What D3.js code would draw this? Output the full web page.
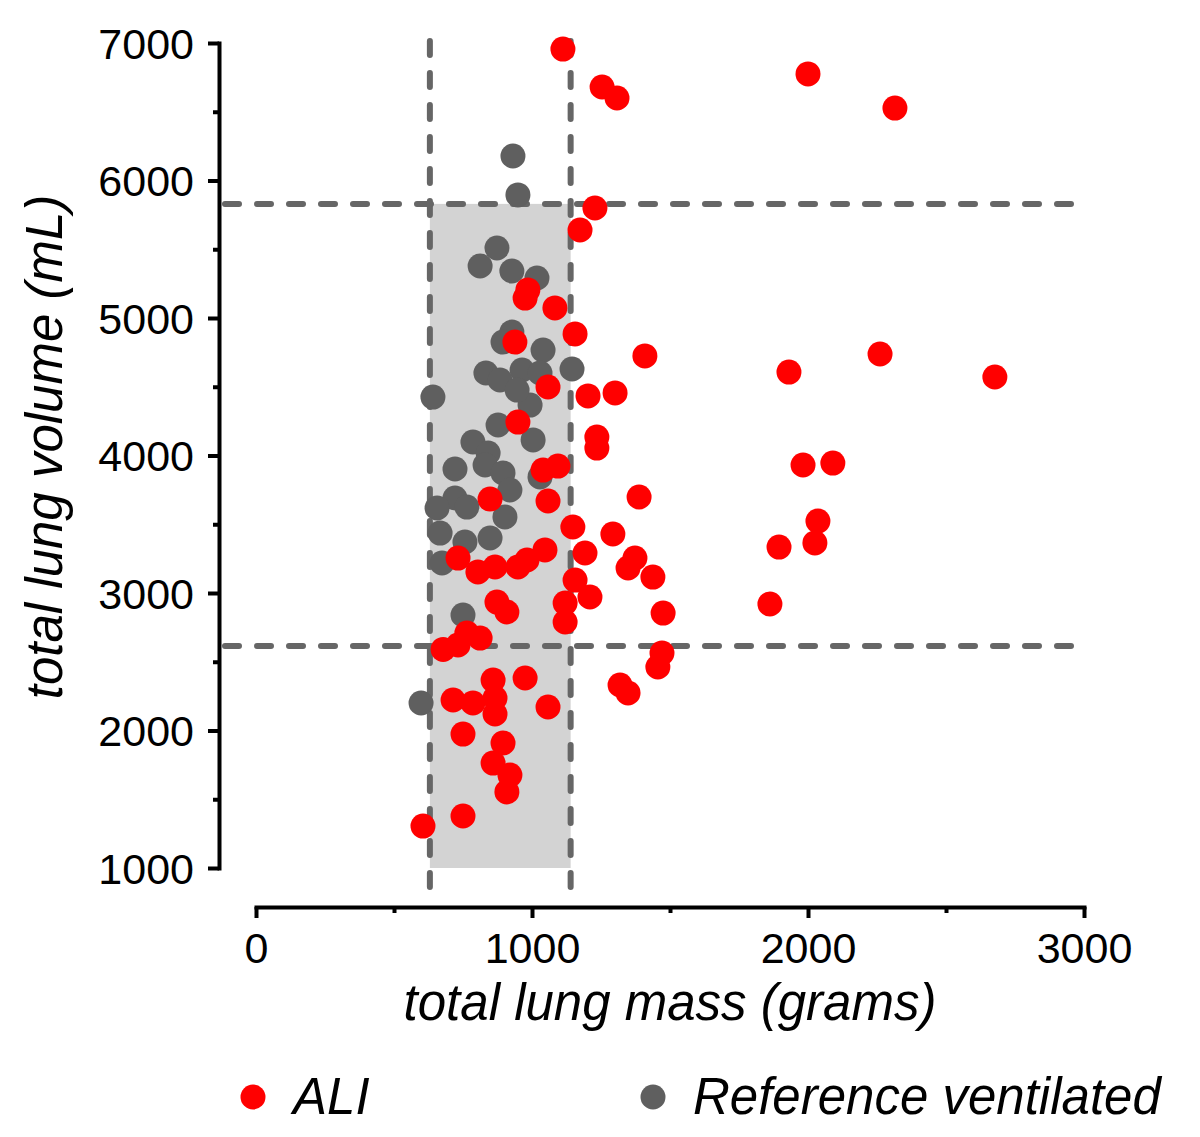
<!DOCTYPE html>
<html>
<head>
<meta charset="utf-8">
<script src="https://cdnjs.cloudflare.com/ajax/libs/d3/7.8.5/d3.min.js"></script>
<style>
  body { margin: 0; background: #fff; }
  svg { font-family: "Liberation Sans", Arial, sans-serif; }
  .axis path, .axis line { stroke: #000; stroke-width: 4; }
  .axis text { font-size: 43px; fill: #000; font-family: "Liberation Sans", Arial, sans-serif; }
  .title { font-size: 51px; font-style: italic; fill: #000; }
</style>
</head>
<body>
<svg id="chart" width="1200" height="1137"></svg>
<script>
// ALI group: total lung mass (g), total lung volume (mL)
const aliMass = [1112, 1254, 1308, 2000, 2315, 1228, 1174, 975, 985, 1083,
  1156, 938, 1409, 2261, 1931, 2677, 1058, 1203, 1301, 949,
  1235, 1235, 1040, 1094, 848, 1058, 1388, 1982, 2090, 1148,
  1293, 1192, 732, 804, 866, 949, 982, 1047, 1373, 1348,
  1438, 2036, 2025, 1895, 1156, 1210, 1120, 1120, 1475, 1862,
  873, 909, 764, 812, 678, 732, 1471, 1456, 859, 975,
  714, 786, 866, 866, 1058, 1319, 1348, 750, 895, 859,
  920, 909, 750, 605];
const aliVolume = [6956, 6680, 6600, 6775, 6527, 5800, 5640, 5145, 5204, 5073,
  4884, 4825, 4724, 4738, 4607, 4571, 4498, 4433, 4455, 4243,
  4134, 4054, 3894, 3923, 3683, 3669, 3698, 3931, 3945, 3480,
  3429, 3291, 3254, 3153, 3189, 3189, 3240, 3313, 3254, 3182,
  3116, 3523, 3364, 3334, 3094, 2971, 2927, 2789, 2854, 2920,
  2934, 2862, 2709, 2672, 2590, 2622, 2563, 2462, 2367, 2382,
  2222, 2200, 2236, 2120, 2171, 2331, 2273, 1974, 1909, 1763,
  1676, 1553, 1378, 1305];

// Reference ventilated group
const refMass = [931, 949, 873, 812, 927, 1018, 927, 895, 1040, 1145,
  833, 964, 641, 884, 1029, 993, 946, 877, 1004, 786,
  841, 721, 830, 895, 920, 721, 764, 656, 902, 667,
  757, 848, 674, 750, 598, 1029];
const refVolume = [6178, 5895, 5509, 5378, 5342, 5291, 4898, 4825, 4767, 4629,
  4600, 4622, 4425, 4549, 4600, 4367, 4476, 4222, 4113, 4098,
  4018, 3902, 3931, 3873, 3749, 3691, 3625, 3618, 3553, 3436,
  3371, 3400, 3218, 2840, 2200, 3844];

// reference range box (mass limits, volume limits)
const massLimits = [630, 1140];
const volumeLimits = [2615, 5830];

const xTicks = [0, 1000, 2000, 3000];
const xMinorTicks = [500, 1500, 2500];
const yTicks = [1000, 2000, 3000, 4000, 5000, 6000, 7000];
const yMinorTicks = [1500, 2500, 3500, 4500, 5500, 6500];

const legendLabels = ["ALI", "Reference ventilated"];
const colorAli = "#ff0000";
const colorRef = "#5f5f5f";

const svg = d3.select("#chart");

const x = d3.scaleLinear().domain([0, 3000]).range([256, 1084]);
const y = d3.scaleLinear().domain([1000, 7000]).range([868, 43]);
const yAxisX = 219;
const xAxisY = 907;
const fmt = d3.format("d");

// shaded normal range
svg.append("rect")
  .attr("x", x(massLimits[0]))
  .attr("y", y(volumeLimits[1]))
  .attr("width", x(massLimits[1]) - x(massLimits[0]))
  .attr("height", y(1000) - y(volumeLimits[1]))
  .attr("fill", "#d3d3d3");

// dashed limit lines
const dashStyle = sel => sel
  .attr("stroke", "#666")
  .attr("stroke-width", 6)
  .attr("stroke-dasharray", "14 18")
  .attr("stroke-linecap", "round");

svg.selectAll(".vline")
  .data(massLimits)
  .enter().append("line")
    .attr("class", "vline")
    .attr("x1", d => x(d)).attr("x2", d => x(d))
    .attr("y1", y(7000) - 2).attr("y2", xAxisY - 12)
    .call(dashStyle);

svg.selectAll(".hline")
  .data(volumeLimits)
  .enter().append("line")
    .attr("class", "hline")
    .attr("x1", yAxisX + 6).attr("x2", x(3000))
    .attr("y1", d => y(d)).attr("y2", d => y(d))
    .call(dashStyle);

// points: reference first, ALI on top
svg.selectAll(".ref")
  .data(d3.range(refMass.length))
  .enter().append("circle")
    .attr("class", "ref")
    .attr("cx", i => x(refMass[i]))
    .attr("cy", i => y(refVolume[i]))
    .attr("r", 12.5)
    .attr("fill", colorRef);

svg.selectAll(".ali")
  .data(d3.range(aliMass.length))
  .enter().append("circle")
    .attr("class", "ali")
    .attr("cx", i => x(aliMass[i]))
    .attr("cy", i => y(aliVolume[i]))
    .attr("r", 12.5)
    .attr("fill", colorAli);

// y axis
const yAxis = svg.append("g")
  .attr("class", "axis")
  .attr("transform", `translate(${yAxisX},0)`)
  .call(d3.axisLeft(y).tickValues(yTicks).tickFormat(fmt).tickSize(11).tickSizeOuter(0).tickPadding(14));
yAxis.selectAll("text").attr("dy", "0.36em");
svg.append("g")
  .attr("class", "axis")
  .attr("transform", `translate(${yAxisX},0)`)
  .call(d3.axisLeft(y).tickValues(yMinorTicks).tickSize(6).tickFormat(""))
  .select(".domain").remove();

// x axis
const xAxis = svg.append("g")
  .attr("class", "axis")
  .attr("transform", `translate(0,${xAxisY})`)
  .call(d3.axisBottom(x).tickValues(xTicks).tickFormat(fmt).tickSize(11).tickSizeOuter(0).tickPadding(14));
xAxis.selectAll("text").attr("dy", "0.71em");
svg.append("g")
  .attr("class", "axis")
  .attr("transform", `translate(0,${xAxisY})`)
  .call(d3.axisBottom(x).tickValues(xMinorTicks).tickSize(6).tickFormat(""))
  .select(".domain").remove();

svg.selectAll(".axis .domain").attr("stroke-linecap", "square");

// axis titles
svg.append("text")
  .attr("class", "title")
  .attr("text-anchor", "middle")
  .attr("transform", "translate(62,447) rotate(-90)")
  .text("total lung volume (mL)");

svg.append("text")
  .attr("class", "title")
  .attr("text-anchor", "middle")
  .attr("x", 670)
  .attr("y", 1020)
  .text("total lung mass (grams)");

// legend
const legendX = [253, 653];
const legend = svg.selectAll(".legend")
  .data(legendLabels)
  .enter().append("g")
    .attr("class", "legend")
    .attr("transform", (d, i) => `translate(${legendX[i]},1097)`);
legend.append("circle")
  .attr("r", 12.5)
  .attr("fill", (d, i) => i === 0 ? colorAli : colorRef);
legend.append("text")
  .attr("class", "title")
  .attr("x", 40)
  .attr("y", 17)
  .text(d => d);
</script>
</body>
</html>
